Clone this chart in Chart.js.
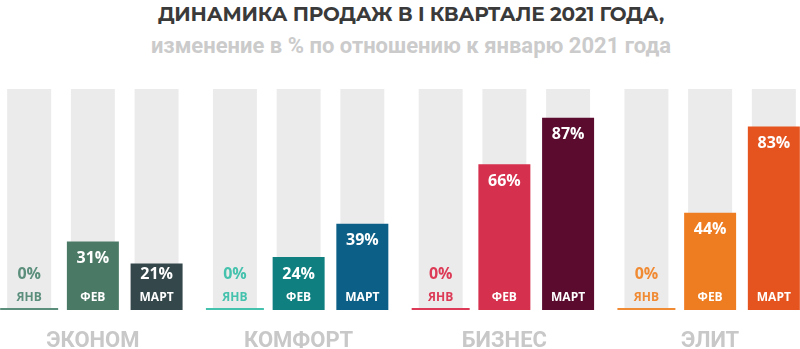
<!DOCTYPE html>
<html>
<head>
<meta charset="utf-8">
<script src="https://cdn.jsdelivr.net/npm/chart.js@4/dist/chart.umd.min.js"></script>
<style>
  html, body { margin: 0; padding: 0; background: #ffffff; overflow: hidden; width: 800px; height: 349px; }
  #wrap { position: absolute; left: -10px; top: 0; width: 823px; height: 349px; }
  .t { position: absolute; left: 0; width: 822px; text-align: center; white-space: nowrap; line-height: 1; }
  #title { top: 2px; font: bold 20px "Montserrat", "Open Sans", sans-serif; color: #3a3a3a; letter-spacing: -0.2px; }
  #subtitle { top: 33px; font: bold 22px Roboto, sans-serif; color: #cbcbcb; }
</style>
</head>
<body>
<div class="t" id="title">ДИНАМИКА ПРОДАЖ В I КВАРТАЛЕ 2021 ГОДА,</div>
<div class="t" id="subtitle">изменение в % по отношению к январю 2021 года</div>
<div id="wrap"><canvas id="c" width="823" height="349"></canvas></div>
<script>
// ---- data ----
const groups = ["ЭКОНОМ", "КОМФОРТ", "БИЗНЕС", "ЭЛИТ"];
const months = ["ЯНВ", "ФЕВ", "МАРТ"];
const janValues = [0, 0, 0, 0];
const febValues = [31, 24, 66, 44];
const marValues = [21, 39, 87, 83];
const trackMax = 100;

// ---- styles ----
const janColors = ["#5b8f7c", "#45c2ad", "#dc3a56", "#f08a33"];
const febColors = ["#4a7a66", "#0f7f80", "#d5304d", "#ee7d22"];
const marColors = ["#34474a", "#0c5f86", "#5a0b2e", "#e5541f"];
const trackColor = "#ebebeb";

const track = groups.map(() => trackMax);
const CAT = 0.929;

function trackDs(stack) {
  return { data: track, backgroundColor: trackColor, stack: stack, order: 5,
           barPercentage: 0.69, categoryPercentage: CAT, isTrack: true };
}

const labelPlugin = {
  id: 'barLabels',
  afterDatasetsDraw(chart) {
    const ctx = chart.ctx;
    chart.data.datasets.forEach((ds, di) => {
      if (ds.isTrack) return;
      const meta = chart.getDatasetMeta(di);
      meta.data.forEach((el, i) => {
        const base = el.base;
        const top = Math.min(el.y, base);
        const col = ds.monthIndex === 0 ? janColors[i] : '#ffffff';
        ctx.save();
        ctx.fillStyle = col;
        ctx.textAlign = 'center';
        ctx.textBaseline = 'middle';
        ctx.font = 'bold 16px "Open Sans", sans-serif';
        const vy = Math.min(top + 17, base - 36);
        ctx.fillText(ds.data[i] + '%', el.x, vy);
        ctx.font = 'bold 12px "Open Sans", sans-serif';
        ctx.fillText(months[ds.monthIndex], el.x, base - 12);
        ctx.restore();
      });
    });
    // group labels
    const xs = chart.scales.x;
    ctx.save();
    ctx.fillStyle = '#c8c8c8';
    ctx.textAlign = 'center';
    ctx.textBaseline = 'middle';
    ctx.font = 'bold 22px Roboto, sans-serif';
    groups.forEach((g, i) => {
      ctx.fillText(g, xs.getPixelForValue(i), 341);
    });
    ctx.restore();
  }
};

new Chart(document.getElementById('c'), {
  type: 'bar',
  data: {
    labels: groups,
    datasets: [
      { data: janValues, backgroundColor: janColors, stack: 'a', order: 0, monthIndex: 0,
        barPercentage: 0.91, categoryPercentage: CAT, minBarLength: 2 },
      { data: febValues, backgroundColor: febColors, stack: 'b', order: 0, monthIndex: 1,
        barPercentage: 0.816, categoryPercentage: CAT },
      { data: marValues, backgroundColor: marColors, stack: 'c', order: 0, monthIndex: 2,
        barPercentage: 0.816, categoryPercentage: CAT },
      trackDs('a'), trackDs('b'), trackDs('c')
    ]
  },
  options: {
    responsive: false,
    animation: false,
    layout: { padding: { top: 89, bottom: 39, left: 0, right: 0 } },
    plugins: { legend: { display: false }, tooltip: { enabled: false }, title: { display: false } },
    scales: {
      x: { display: false, offset: true },
      y: { display: false, stacked: false, min: 0, max: trackMax }
    }
  },
  plugins: [labelPlugin]
});
</script>
</body>
</html>
